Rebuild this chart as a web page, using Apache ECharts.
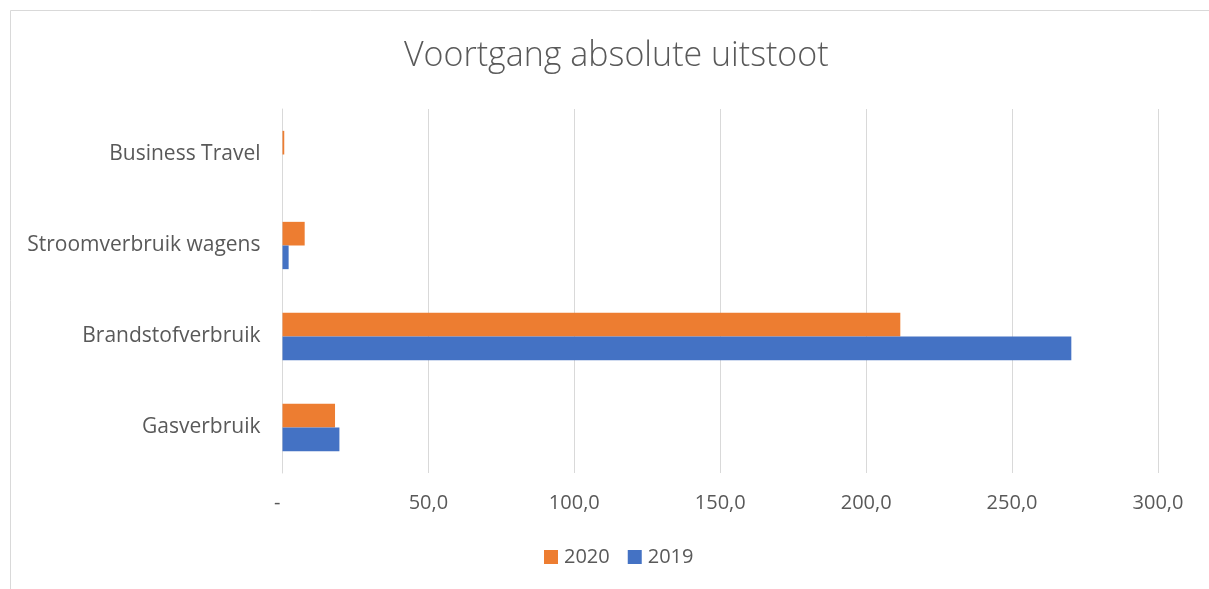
<!DOCTYPE html>
<html>
<head>
<meta charset="utf-8">
<script src="https://cdn.jsdelivr.net/npm/echarts@6/dist/echarts.min.js"></script>
<style>
html,body{margin:0;padding:0;background:#fff;}
#chart{width:1209px;height:589px;}
</style>
</head>
<body>
<div id="chart"></div>
<script>
const categories = ['Gasverbruik', 'Brandstofverbruik', 'Stroomverbruik wagens', 'Business Travel'];
const values2020 = [18.0, 211.7, 7.6, 0.6];
const values2019 = [19.5, 270.3, 2.1, 0];
const xTicks = [0, 50, 100, 150, 200, 250, 300];

const chart = echarts.init(document.getElementById('chart'));
const FONT = '"Open Sans", sans-serif';
chart.setOption({
  animation: false,
  backgroundColor: '#fff',
  title: {
    text: 'Voortgang absolute uitstoot',
    left: 399,
    top: 34,
    textStyle: { fontFamily: FONT, fontWeight: 300, fontSize: 34, color: '#595959' }
  },
  graphic: [{
    type: 'rect',
    shape: { x: 10.5, y: 10.5, width: 1250, height: 650 },
    style: { fill: 'none', stroke: '#d9d9d9', lineWidth: 1 },
    silent: true
  }],
  legend: {
    data: ['2020', '2019'],
    bottom: 17,
    left: 539,
    itemWidth: 14,
    itemHeight: 14,
    itemGap: 18,
    icon: 'rect',
    textStyle: { fontFamily: FONT, fontSize: 20, color: '#595959', padding: [0, 0, 0, 1] }
  },
  grid: { left: 282.5, right: 51, top: 109, bottom: 116, containLabel: false },
  xAxis: {
    type: 'value',
    min: xTicks[0], max: xTicks[xTicks.length - 1], interval: 50,
    axisLine: { show: false },
    axisTick: { show: false },
    splitLine: { lineStyle: { color: '#d9d9d9', width: 1 } },
    axisLabel: {
      fontFamily: FONT, fontSize: 20, color: '#595959', margin: 20,
      formatter: function (v) { return v === 0 ? '-  ' : v.toFixed(1).replace('.', ','); }
    }
  },
  yAxis: {
    type: 'category',
    data: categories,
    axisLine: { show: true, lineStyle: { color: '#d9d9d9', width: 1 } },
    axisTick: { show: false },
    axisLabel: { fontFamily: FONT, fontSize: 21, color: '#595959', margin: 22, padding: [3, 0, 0, 0] }
  },
  series: [
    { name: '2020', type: 'bar', data: values2020, itemStyle: { color: '#ED7D31' }, barGap: '0%', barCategoryGap: '48%' },
    { name: '2019', type: 'bar', data: values2019, itemStyle: { color: '#4472C4' }, barGap: '0%', barCategoryGap: '48%' }
  ]
});
</script>
</body>
</html>
